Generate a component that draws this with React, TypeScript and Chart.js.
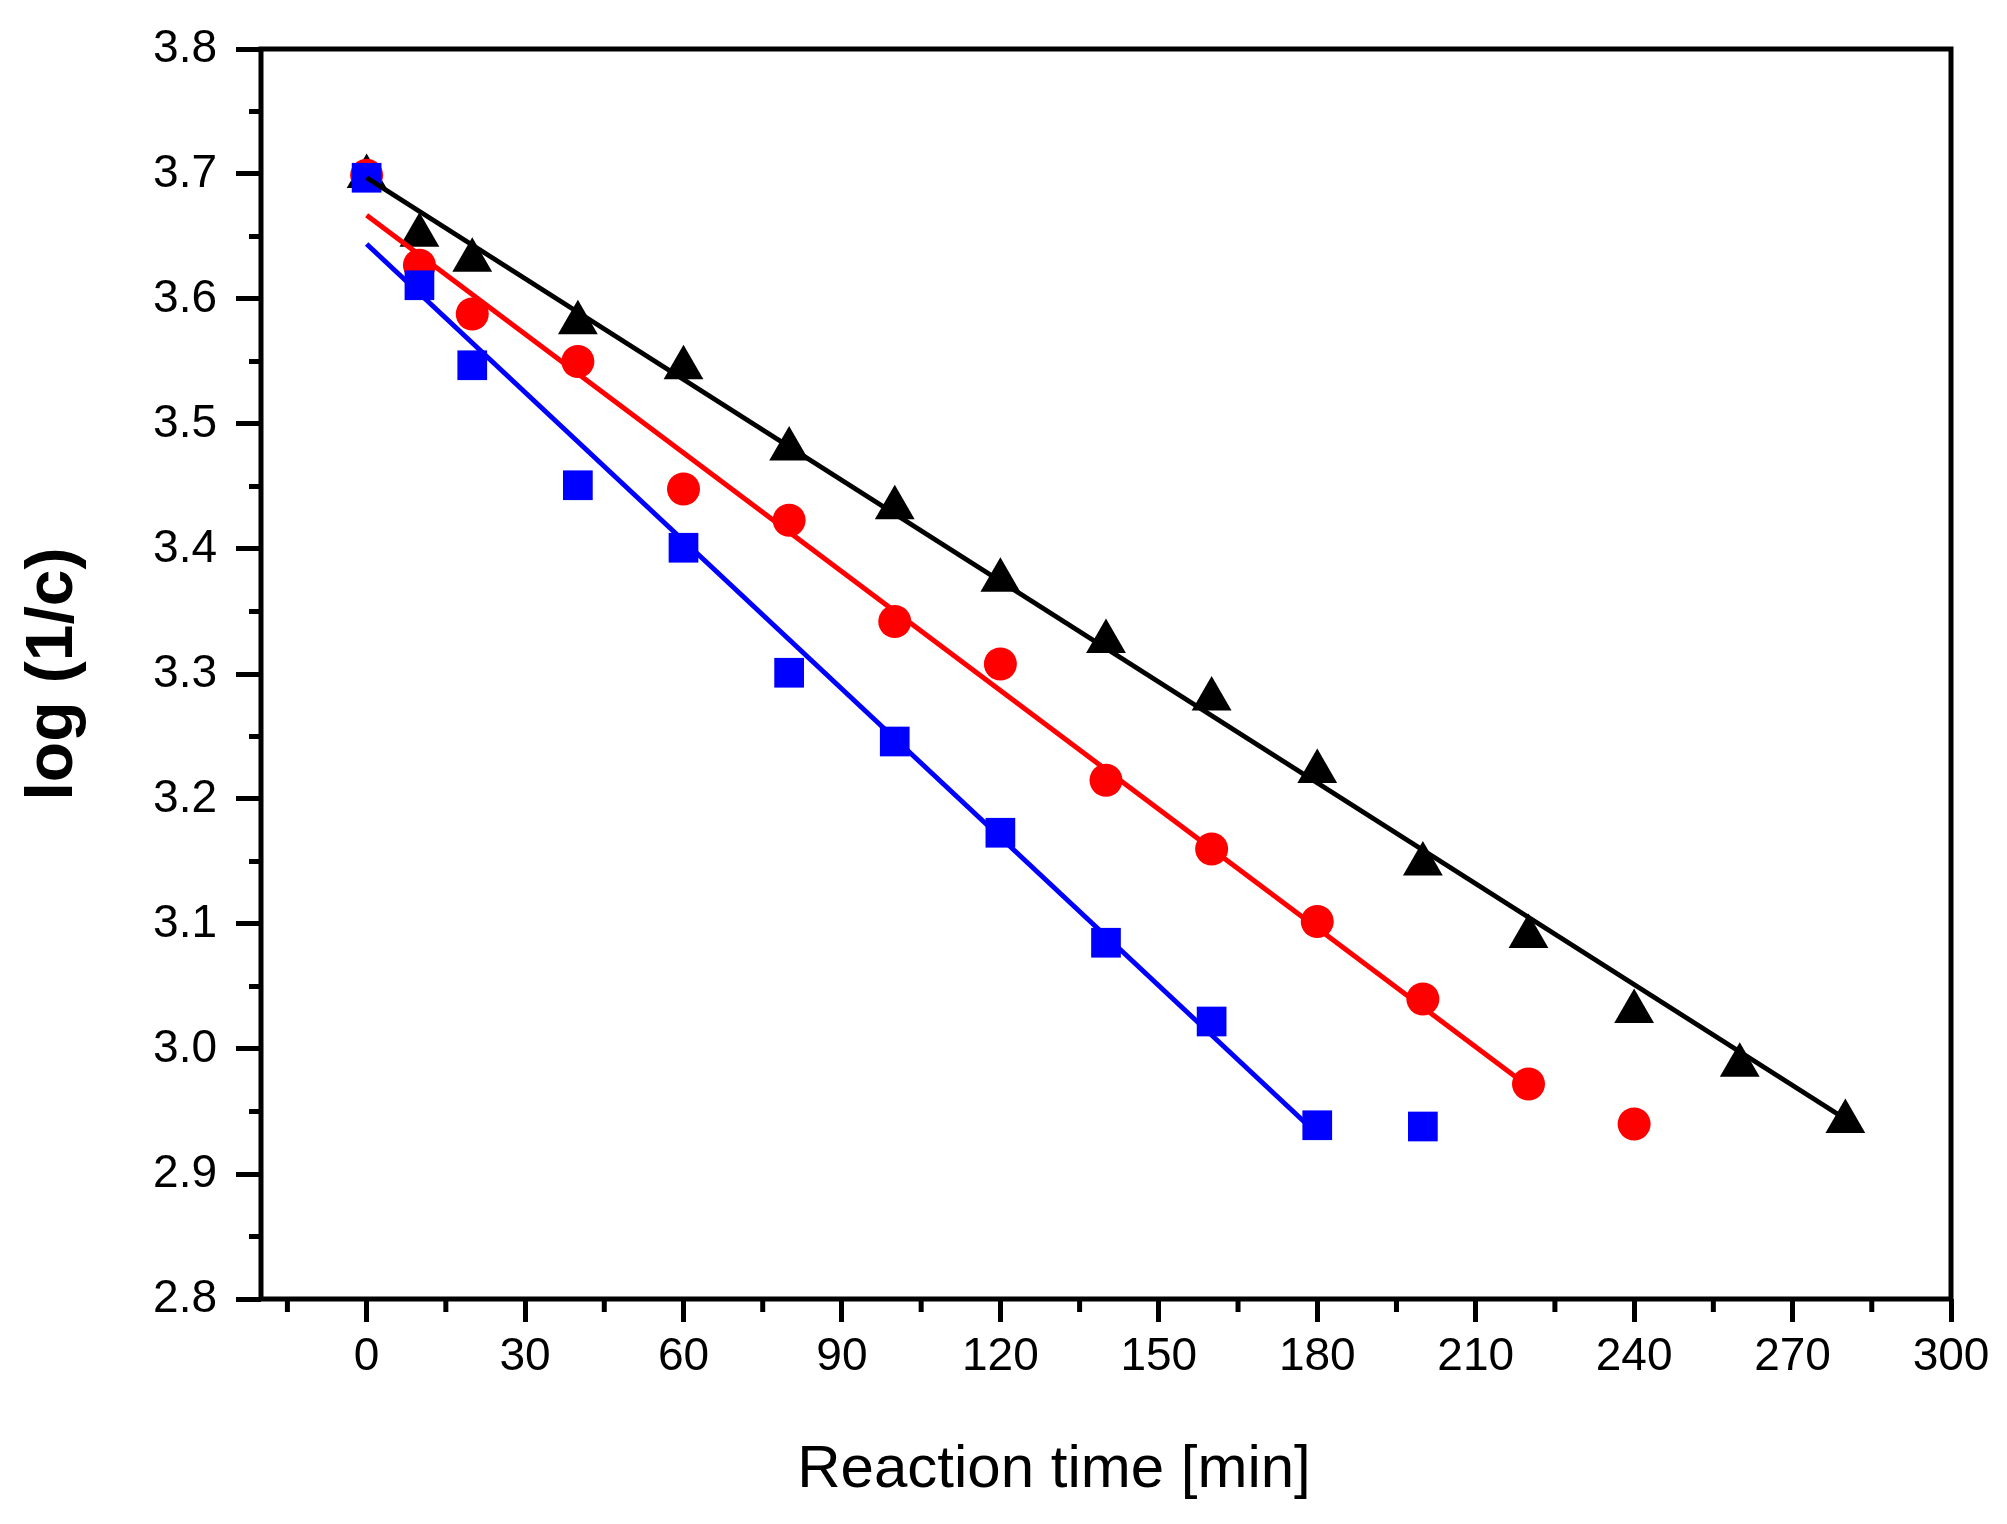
import { useEffect, useRef } from 'react';
import { Chart, registerables } from 'chart.js';

Chart.register(...registerables);

// black triangles
const triTime = [0, 10, 20, 40, 60, 80, 100, 120, 140, 160, 180, 200, 220, 240, 260, 280];
const triValue = [3.698, 3.651, 3.631, 3.581, 3.545, 3.480, 3.433, 3.375, 3.326, 3.280, 3.222, 3.148, 3.090, 3.030, 2.987, 2.942];

// red circles
const circTime = [0, 10, 20, 40, 60, 80, 100, 120, 140, 160, 180, 200, 220, 240];
const circValue = [3.699, 3.627, 3.588, 3.550, 3.448, 3.423, 3.342, 3.308, 3.215, 3.160, 3.102, 3.040, 2.972, 2.940];

// blue squares
const sqTime = [0, 10, 20, 40, 60, 80, 100, 120, 140, 160, 180, 200];
const sqValue = [3.697, 3.611, 3.547, 3.451, 3.401, 3.301, 3.246, 3.173, 3.085, 3.022, 2.939, 2.938];

// linear fits: [start, end]
const blackFitTime = [0, 280];
const blackFitValue = [3.697, 2.944];
const redFitTime = [0, 220];
const redFitValue = [3.667, 2.970];
const blueFitTime = [0, 180];
const blueFitValue = [3.644, 2.932];

// axes
const xMajor = [0, 30, 60, 90, 120, 150, 180, 210, 240, 270, 300];
const xMinor = [-15, 15, 45, 75, 105, 135, 165, 195, 225, 255, 285];
const yMajor = [2.8, 2.9, 3.0, 3.1, 3.2, 3.3, 3.4, 3.5, 3.6, 3.7, 3.8];
const yMinor = [2.85, 2.95, 3.05, 3.15, 3.25, 3.35, 3.45, 3.55, 3.65, 3.75];

const xTitle = 'Reaction time [min]';
const yTitle = 'log (1/c)';

const pts = (xs: number[], ys: number[]) => xs.map((x, i) => ({ x, y: ys[i] }));

const framePlugin = {
  id: 'frame',
  afterDraw(chart: any) {
    const { ctx, chartArea: a, scales } = chart;
    ctx.save();
    ctx.strokeStyle = '#000';
    ctx.lineWidth = 5;
    ctx.strokeRect(a.left, a.top, a.right - a.left, a.bottom - a.top);

    // minor ticks
    ctx.beginPath();
    xMinor.forEach(v => {
      const px = scales.x.getPixelForValue(v);
      ctx.moveTo(px, a.bottom);
      ctx.lineTo(px, a.bottom + 13);
    });
    yMinor.forEach(v => {
      const py = scales.y.getPixelForValue(v);
      ctx.moveTo(a.left, py);
      ctx.lineTo(a.left - 12, py);
    });
    ctx.stroke();

    // axis titles
    ctx.fillStyle = '#000';
    ctx.textAlign = 'center';
    ctx.textBaseline = 'alphabetic';
    ctx.font = '60px "Liberation Sans", Arial, sans-serif';
    ctx.fillText(xTitle, (a.left + a.right) / 2 - 52, a.bottom + 188);

    ctx.translate(72, (a.top + a.bottom) / 2);
    ctx.rotate(-Math.PI / 2);
    ctx.font = 'bold 66px "Liberation Sans", Arial, sans-serif';
    ctx.fillText(yTitle, 0, 0);
    ctx.restore();
  },
};

export default function App() {
  const chartRef = useRef<HTMLCanvasElement>(null);
  const chartInstance = useRef<Chart | null>(null);

  useEffect(() => {
    document.body.style.margin = '0';
    if (!chartRef.current) return;
    if (chartInstance.current) chartInstance.current.destroy();
    const ctx = chartRef.current.getContext('2d');
    if (!ctx) return;

    const tickFont = { family: '"Liberation Sans", Arial, sans-serif', size: 46 };

    chartInstance.current = new Chart(ctx, {
      type: 'scatter',
      data: {
        datasets: [
          {
            data: pts(blackFitTime, blackFitValue),
            showLine: true,
            borderColor: '#000000',
            borderWidth: 5,
            pointRadius: 0,
          },
          {
            data: pts(redFitTime, redFitValue),
            showLine: true,
            borderColor: '#ff0000',
            borderWidth: 5,
            pointRadius: 0,
          },
          {
            data: pts(blueFitTime, blueFitValue),
            showLine: true,
            borderColor: '#0000ff',
            borderWidth: 5,
            pointRadius: 0,
          },
          {
            data: pts(sqTime, sqValue),
            pointStyle: 'rect',
            pointRadius: 21,
            backgroundColor: '#0000ff',
            borderColor: '#0000ff',
            borderWidth: 0,
          },
          {
            data: pts(circTime, circValue),
            pointStyle: 'circle',
            pointRadius: 16.5,
            backgroundColor: '#ff0000',
            borderColor: '#ff0000',
            borderWidth: 0,
          },
          {
            data: pts(triTime, triValue),
            pointStyle: 'triangle',
            pointRadius: 23,
            backgroundColor: '#000000',
            borderColor: '#000000',
            borderWidth: 0,
          },
        ],
      },
      options: {
        responsive: false,
        animation: false,
        events: [],
        layout: { padding: { top: 49, right: 56, left: 0, bottom: 0 } },
        plugins: {
          legend: { display: false },
          tooltip: { enabled: false },
        },
        scales: {
          x: {
            type: 'linear',
            min: -20,
            max: 300,
            afterBuildTicks: (axis: any) => {
              axis.ticks = xMajor.map(v => ({ value: v }));
            },
            afterFit: (axis: any) => {
              axis.height = 225;
            },
            grid: {
              display: true,
              drawOnChartArea: false,
              drawTicks: true,
              tickLength: 23,
              tickWidth: 5,
              tickColor: '#000',
            },
            border: { display: false },
            ticks: {
              color: '#000',
              font: tickFont,
              padding: 8,
              maxRotation: 0,
              autoSkip: false,
              callback: (v: any) => String(v),
            },
          },
          y: {
            type: 'linear',
            min: 2.8,
            max: 3.8,
            afterBuildTicks: (axis: any) => {
              axis.ticks = yMajor.map(v => ({ value: v }));
            },
            afterFit: (axis: any) => {
              axis.width = 261;
            },
            grid: {
              display: true,
              drawOnChartArea: false,
              drawTicks: true,
              tickLength: 25,
              tickWidth: 5,
              tickColor: '#000',
            },
            border: { display: false },
            ticks: {
              color: '#000',
              font: tickFont,
              padding: 19,
              autoSkip: false,
              callback: (v: any) => Number(v).toFixed(1),
            },
          },
        },
      },
      plugins: [framePlugin],
    });

    return () => {
      if (chartInstance.current) {
        chartInstance.current.destroy();
        chartInstance.current = null;
      }
    };
  }, []);

  return (
    <div style={{ width: 2007, height: 1524, background: '#fff' }}>
      <canvas ref={chartRef} width={2007} height={1524} />
    </div>
  );
}
